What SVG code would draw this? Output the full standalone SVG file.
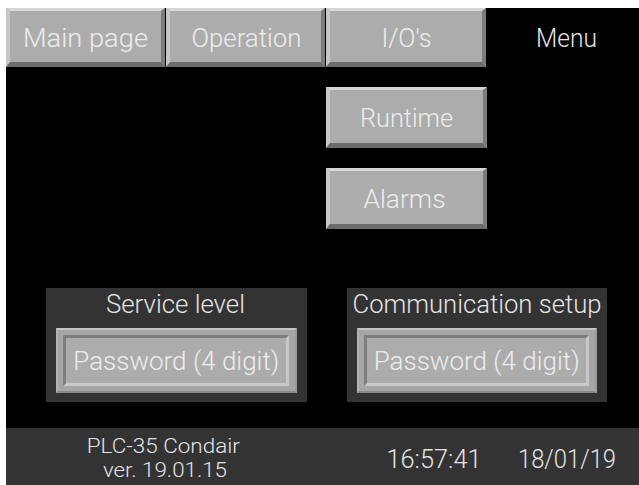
<svg xmlns="http://www.w3.org/2000/svg" width="639" height="485" viewBox="0 0 639 485">
<style>
.t{font-family:Roboto,"Liberation Sans",Arial,sans-serif;font-weight:300;font-size:26px;fill:#ececec;text-anchor:middle}
.s{font-size:20px}
.face{fill:#acacac}
.hl{fill:#d6d6d6}
.hl2{fill:#c6c6c6}
.dk{fill:#6c6c6c}
.dk2{fill:#7c7c7c}
.panel{fill:#333333}
</style>
<rect x="0" y="0" width="639" height="485" fill="#ffffff"/>
<rect x="6" y="8" width="633" height="477" fill="#000000"/>
<g id="connectors"/>

<g id="btn-main-page">
<rect class="face" x="6" y="8" width="159" height="59"/>
<polygon class="hl" points="6,8 165,8 161,11 10,11"/>
<polygon class="hl2" points="6,8 10,11 10,62 6,67"/>
<polygon class="dk" points="6,67 10,62 161,62 165,67"/>
<polygon class="dk2" points="165,8 165,67 161,62 161,11"/>
<text class="t" x="85.5" y="47" textLength="125" lengthAdjust="spacingAndGlyphs">Main page</text>
</g>

<g id="btn-operation">
<rect class="face" x="166" y="8" width="159" height="59"/>
<polygon class="hl" points="166,8 325,8 321,11 170,11"/>
<polygon class="hl2" points="166,8 170,11 170,62 166,67"/>
<polygon class="dk" points="166,67 170,62 321,62 325,67"/>
<polygon class="dk2" points="325,8 325,67 321,62 321,11"/>
<text class="t" x="246.5" y="47" textLength="110" lengthAdjust="spacingAndGlyphs">Operation</text>
</g>

<g id="btn-ios">
<rect class="face" x="326" y="8" width="160" height="59"/>
<polygon class="hl" points="326,8 486,8 482,11 330,11"/>
<polygon class="hl2" points="326,8 330,11 330,62 326,67"/>
<polygon class="dk" points="326,67 330,62 482,62 486,67"/>
<polygon class="dk2" points="486,8 486,67 482,62 482,11"/>
<text class="t" x="406.5" y="47" textLength="50" lengthAdjust="spacingAndGlyphs">I/O's</text>
</g>

<g id="tab-menu">
<text class="t" x="566.5" y="47" textLength="61" lengthAdjust="spacingAndGlyphs" style="fill:#e6e6e6">Menu</text>
</g>

<g id="btn-runtime">
<rect class="face" x="326" y="87" width="161" height="61"/>
<polygon class="hl" points="326,87 487,87 483,90 330,90"/>
<polygon class="hl2" points="326,87 330,90 330,143 326,148"/>
<polygon class="dk" points="326,148 330,143 483,143 487,148"/>
<polygon class="dk2" points="487,87 487,148 483,143 483,90"/>
<text class="t" x="406.5" y="127" textLength="93" lengthAdjust="spacingAndGlyphs">Runtime</text>
</g>

<g id="btn-alarms">
<rect class="face" x="326" y="168" width="161" height="61"/>
<polygon class="hl" points="326,168 487,168 483,171 330,171"/>
<polygon class="hl2" points="326,168 330,171 330,224 326,229"/>
<polygon class="dk" points="326,229 330,224 483,224 487,229"/>
<polygon class="dk2" points="487,168 487,229 483,224 483,171"/>
<text class="t" x="404.5" y="208" textLength="82" lengthAdjust="spacingAndGlyphs">Alarms</text>
</g>

<g id="panel-service-level">
<rect class="panel" x="46" y="288" width="261" height="114"/>
<text class="t" x="175.5" y="313" textLength="139" lengthAdjust="spacingAndGlyphs" style="fill:#e4e4e4">Service level</text>
<rect x="56" y="328" width="241" height="65" fill="#a6a6a6"/>
<polygon points="56,328 297,328 295,330 58,330" fill="#c4c4c4"/>
<polygon points="56,328 58,330 58,391 56,393" fill="#b4b4b4"/>
<polygon points="56,393 58,391 295,391 297,393" fill="#8a8a8a"/>
<polygon points="297,328 297,393 295,391 295,330" fill="#9a9a9a"/>
<polygon points="289,335 289,386 63,386 66,383 286,383 286,338" fill="#c8c8c8"/>
<rect x="66" y="338" width="220" height="45" class="face"/>
<polygon points="63,335 289,335 286,338 66,338 66,383 63,386" fill="#7e7e7e"/>
<text class="t" x="176.3" y="370" textLength="206" lengthAdjust="spacingAndGlyphs">Password (4 digit)</text>
</g>

<g id="panel-communication-setup">
<rect class="panel" x="347" y="288" width="260" height="114"/>
<text class="t" x="477" y="313" textLength="249" lengthAdjust="spacingAndGlyphs" style="fill:#e4e4e4">Communication setup</text>
<rect x="357" y="328" width="240" height="65" fill="#a6a6a6"/>
<polygon points="357,328 597,328 595,330 359,330" fill="#c4c4c4"/>
<polygon points="357,328 359,330 359,391 357,393" fill="#b4b4b4"/>
<polygon points="357,393 359,391 595,391 597,393" fill="#8a8a8a"/>
<polygon points="597,328 597,393 595,391 595,330" fill="#9a9a9a"/>
<polygon points="589,335 589,386 364,386 367,383 586,383 586,338" fill="#c8c8c8"/>
<rect x="367" y="338" width="219" height="45" class="face"/>
<polygon points="364,335 589,335 586,338 367,338 367,383 364,386" fill="#7e7e7e"/>
<text class="t" x="476.7" y="370" textLength="206" lengthAdjust="spacingAndGlyphs">Password (4 digit)</text>
</g>

<g id="status-bar">
<rect class="panel" x="6" y="428" width="633" height="57"/>
<text class="t s" x="163.3" y="453" textLength="153" lengthAdjust="spacingAndGlyphs" style="fill:#e4e4e4">PLC-35 Condair</text>
<text class="t s" x="165" y="477" textLength="124" lengthAdjust="spacingAndGlyphs" style="fill:#e4e4e4">ver. 19.01.15</text>
<text class="t" x="434" y="468" textLength="95" lengthAdjust="spacingAndGlyphs" style="fill:#e4e4e4">16:57:41</text>
<text class="t" x="567" y="468" textLength="98" lengthAdjust="spacingAndGlyphs" style="fill:#e4e4e4">18/01/19</text>
</g>
</svg>
